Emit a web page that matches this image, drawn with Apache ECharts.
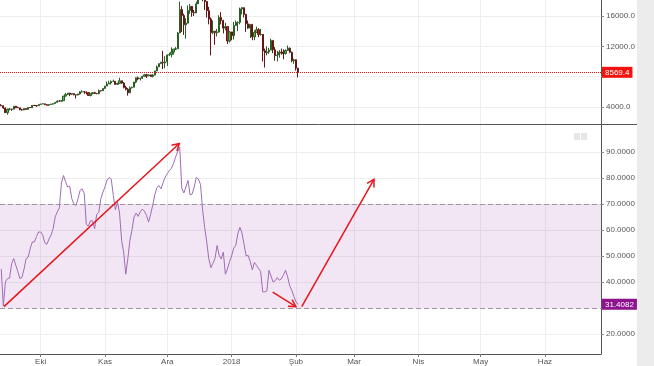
<!DOCTYPE html>
<html><head><meta charset="utf-8">
<script src="https://cdn.jsdelivr.net/npm/echarts@6/dist/echarts.min.js"></script>
<style>html,body{margin:0;padding:0;background:#fff}#c{width:654px;height:366px}</style>
</head><body><div id="c"></div>
<script>
// ---- data (daily, starting 2017-09-12) ----
const startDate = '2017-09-12';
const open = [
 4210,4170,3870,3240,3700,3710,3690,4100,3900,3880,3620,3600,3790,3670,3930,3890,4210,4190,4160,
 4340,4400,4410,4310,4220,4320,4370,4440,4610,4780,4760,4820,5430,5640,5830,5680,5760,5600,5570,5710,6000,6010,5980,5900,5510,5740,5890,5770,5750,6150,6130,
 6450,6750,7030,7160,7380,7390,6980,7110,7450,7150,6580,6330,5860,6520,6600,7280,7850,7700,7780,8040,8240,8100,8230,8010,8200,8750,9280,9720,9890,9820,
 9950,10860,10900,11240,11620,11670,13750,16850,16050,14840,15060,16730,17280,16470,16400,17600,19350,19100,18900,17900,16700,15600,13800,14000,13800,13900,15800,15400,14400,14600,12700,
 13900,13400,14750,15150,15150,16930,17100,16200,14970,14400,14900,13240,13830,14190,13570,13580,11400,11150,11250,11500,12780,11530,10760,10850,11230,11110,11060,11450,11750,11210,10090,
 10220,9120];
const high = [
 4370,4180,3920,3790,3860,3760,4120,4120,4040,3900,3760,3810,3790,3970,3980,4230,4250,4220,4360,
 4400,4470,4440,4350,4350,4420,4460,4630,4850,4920,4880,5450,5850,5840,5860,5790,5780,5600,5730,6070,6200,6060,6060,5910,5760,5970,6000,5860,6300,6200,6470,
 6770,7350,7460,7490,7600,7410,7200,7860,7440,7280,6800,6480,6720,6680,7310,7880,8000,7850,8100,8300,8370,8260,8250,8340,8780,9480,9720,9960,11400,10700,
 10900,11150,11850,11630,11900,13900,17900,17300,16300,15700,17400,17580,17300,16800,17900,19400,19800,19150,18950,17950,17200,15800,15400,14000,14300,16100,16500,15500,15100,14600,14000,
 13900,15200,15400,15300,17100,17200,17100,16300,15400,14900,14900,14100,14600,14400,14300,13600,11700,12000,11800,13000,12800,11900,11400,11500,11700,11600,11600,12100,11850,11300,10350,
 10260,9150];
const low = [
 4090,3760,3200,2980,3540,3480,3690,3840,3860,3570,3520,3580,3640,3660,3860,3890,4120,4000,4150,
 4290,4380,4230,4180,4140,4310,4320,4430,4560,4730,4740,4820,5370,5560,5440,5560,5540,5110,5540,5620,5900,5730,5650,5450,5390,5690,5700,5680,5670,6030,6100,
 6370,6750,7030,6950,7300,6940,6970,7090,7060,6440,6190,5500,5820,6440,6600,7130,7510,7490,7690,7960,7820,8090,8000,7900,8170,8750,9280,9650,9000,9100,
 9400,10700,10550,10910,11500,11670,13750,13900,13500,13000,15000,16300,15900,16000,16400,17600,18800,17950,16800,15800,14900,10800,13600,12200,13300,13800,14900,13700,14100,12300,12500,
 12800,12900,14700,14000,14900,16200,15800,13900,14300,13100,12800,12800,13800,13200,13400,10000,9200,10800,11000,11500,11100,10100,10000,10500,10900,10300,10900,11400,11100,9900,9700,
 8800,7900];
const close = [
 4170,3870,3240,3700,3710,3690,4100,3900,3880,3620,3600,3790,3670,3930,3890,4210,4190,4160,4340,
 4400,4410,4310,4220,4320,4370,4440,4610,4780,4760,4820,5430,5640,5830,5680,5760,5600,5570,5710,6000,6010,5980,5900,5510,5740,5890,5770,5750,6150,6130,6450,
 6750,7030,7160,7380,7390,6980,7110,7450,7150,6580,6330,5860,6520,6600,7280,7850,7700,7780,8040,8240,8100,8230,8010,8200,8750,9280,9720,9890,9820,9950,
 10860,10900,11240,11620,11670,13750,16850,16050,14840,15060,16730,17280,16470,16400,17600,19350,19100,18900,17900,16700,15600,13800,14000,13800,13900,15800,15400,14400,14600,12700,13900,
 13400,14750,15150,15150,16930,17100,16200,14970,14400,14900,13240,13830,14190,13570,13580,11400,11150,11250,11500,12780,11530,10760,10850,11230,11110,11060,11450,11750,11210,10090,10220,
 9120,8569.4];
const rsi = [
 45,30.8,40,41.3,41.5,47,49,46.5,44,41.3,41.8,45,49,49.6,53,55.4,55.4,57.5,59.2,
 59.2,58,55,54.5,56.5,58,60.5,65,66.9,68.5,78,80.9,78.5,76.5,76.8,72,70,69.4,72,75.2,75.8,74,62,61.5,63.5,63.5,60.5,66,66.8,72,74.5,
 76.5,79.2,80.1,79.5,73.3,67.8,70.7,66.5,56,51.5,43,49,56,60,65,66.5,65.2,67,68,67.2,65.6,63,66,69.5,73.5,76.3,77,75.8,78.2,80.3,
 81.6,82.8,83.7,85.5,88,90,91.8,76,74.2,76.5,79,73.4,73.8,76.5,80.2,79.5,77.5,68,61,55.5,49,45.5,47.2,49,54,50.3,48.8,51.5,43,45,47.8,
 50,53,54,58.5,61,58.8,54.5,50,50.2,47.8,44.7,47.5,46.4,45.2,44,36.2,36.2,36.6,44.5,42.3,40,40.5,41.7,40.7,41.2,42.8,44.5,42,38.5,36.8,
 34.5,32.5,31.4082];

const priceTicks = [4000, 8000, 12000, 16000];
const priceLabels = [4000, 12000, 16000];
const rsiTicks = [20, 30, 40, 50, 60, 70, 80, 90];
const rsiLabels = [20, 40, 50, 60, 70, 80, 90];
const rsiBand = [30, 70];
const monthDates = ['2017-10-01','2017-11-01','2017-12-01','2018-01-01','2018-02-01','2018-03-01','2018-04-01','2018-05-01','2018-06-01'];
const monthLabels = ['Eki','Kas','Ara','2018','Şub','Mar','Nis','May','Haz'];
// hand-drawn arrows (day index, RSI value)
const arrowFrom = [[1.3, 30.55], [130.8, 36.1], [144.8, 30.55]];
const arrowTo   = [[85.8, 93.2], [142.0, 30.55], [179.6, 79.4]];

// ---- build ----
const DAY = 86400000;
const t0 = Date.parse(startDate + 'T00:00:00Z');
const dayOf = s => Math.round((Date.parse(s + 'T00:00:00Z') - t0) / DAY);
const days = close.map((_, i) => i);
const monthDays = monthDates.map(dayOf);

const font = 'Liberation Sans, Arial, sans-serif';
const gridLine = {show: true, lineStyle: {color: '#eeeeee', width: 1}};
const X_MIN = -0.6, X_MAX = 289.0;

const candleData = days.map((d, i) => [d, open[i], close[i], low[i], high[i]]);
const rsiData = days.map((d, i) => [d, rsi[i]]);
const arrowData = arrowFrom.map((a, i) => [a[0], a[1], arrowTo[i][0], arrowTo[i][1]]);
const lastPrice = close[close.length - 1];
const lastRsi = rsi[rsi.length - 1];

const chart = echarts.init(document.getElementById('c'), null, {renderer: 'canvas'});
chart.setOption({
  animation: false,
  backgroundColor: '#ffffff',
  grid: [
    {left: 0, right: 53, top: 0, height: 124},
    {left: 0, right: 53, top: 125, height: 230}
  ],
  xAxis: [
    {type: 'value', gridIndex: 0, min: X_MIN, max: X_MAX,
     axisLine: {show: false}, axisTick: {show: false, customValues: monthDays},
     axisLabel: {show: false}, splitLine: gridLine},
    {type: 'value', gridIndex: 1, min: X_MIN, max: X_MAX,
     axisLine: {show: true, onZero: false, lineStyle: {color: '#555', width: 1}},
     axisTick: {show: true, length: 3, customValues: monthDays, lineStyle: {color: '#777'}},
     axisLabel: {customValues: monthDays, margin: 4, color: '#555', fontSize: 8, fontFamily: font,
       formatter: v => monthLabels[monthDays.indexOf(Math.round(v))] || ''},
     splitLine: gridLine}
  ],
  yAxis: [
    {type: 'value', gridIndex: 0, position: 'right', min: 1750, max: 18110,
     axisLine: {show: true, onZero: false, lineStyle: {color: '#555', width: 1}},
     axisTick: {show: true, length: 3, customValues: priceTicks, lineStyle: {color: '#888'}},
     axisLabel: {customValues: priceLabels, margin: 5, color: '#555', fontSize: 8, fontFamily: font,
       formatter: v => Number(v).toFixed(1)},
     splitLine: gridLine},
    {type: 'value', gridIndex: 1, position: 'right', min: 12.35, max: 100.3,
     axisLine: {show: true, onZero: false, lineStyle: {color: '#555', width: 1}},
     axisTick: {show: true, length: 3, customValues: rsiTicks, lineStyle: {color: '#888'}},
     axisLabel: {customValues: rsiLabels, margin: 5, color: '#555', fontSize: 8, fontFamily: font,
       formatter: v => Number(v).toFixed(4)},
     splitLine: gridLine}
  ],
  series: [
    {type: 'candlestick', xAxisIndex: 0, yAxisIndex: 0, data: candleData,
     encode: {x: 0, y: [1, 2, 3, 4]}, barWidth: 1.7, clip: true,
     itemStyle: {color: '#55b855', color0: '#b3262a', borderColor: '#2a5e25', borderColor0: '#641616', borderWidth: 1},
     markLine: {silent: true, symbol: ['none', 'none'], animation: false,
       lineStyle: {color: '#d9141b', type: 'dotted', width: 1},
       label: {show: true, position: 'end', distance: 1, formatter: lastPrice.toFixed(1),
         backgroundColor: '#f2130f', color: '#fff', fontSize: 8, fontFamily: font, padding: [2, 3, 1, 3]},
       data: [{yAxis: lastPrice}]}
    },
    {type: 'line', xAxisIndex: 1, yAxisIndex: 1, data: rsiData, showSymbol: false,
     lineStyle: {color: '#a06cb6', width: 1}, z: 3,
     markArea: {silent: true, itemStyle: {color: 'rgba(155,50,165,0.12)'},
       data: [[{yAxis: rsiBand[0]}, {yAxis: rsiBand[1]}]]},
     markLine: {silent: true, symbol: ['none', 'none'], animation: false,
       lineStyle: {color: '#a394a5', type: [5, 3], width: 1},
       label: {show: false},
       data: [
         {yAxis: rsiBand[1]},
         {yAxis: rsiBand[0]}
       ]}
    },
    {type: 'line', xAxisIndex: 1, yAxisIndex: 1, data: [], showSymbol: false, z: 4,
     markLine: {silent: true, symbol: ['none', 'none'], animation: false,
       lineStyle: {color: 'rgba(0,0,0,0)', width: 1},
       label: {show: true, position: 'end', distance: 1, formatter: lastRsi.toFixed(4),
         backgroundColor: '#8e138e', color: '#fff', fontSize: 8, fontFamily: font, padding: [2, 3, 1, 3]},
       data: [{yAxis: lastRsi}]}
    },
    {type: 'custom', xAxisIndex: 1, yAxisIndex: 1, data: arrowData, z: 5,
     encode: {x: [0, 2], y: [1, 3]},
     renderItem: (params, api) => {
       const p1 = api.coord([api.value(0), api.value(1)]);
       const p2 = api.coord([api.value(2), api.value(3)]);
       const ang = Math.atan2(p2[1] - p1[1], p2[0] - p1[0]);
       const L = 8, a = Math.PI / 6;
       const h1 = [p2[0] - L * Math.cos(ang - a), p2[1] - L * Math.sin(ang - a)];
       const h2 = [p2[0] - L * Math.cos(ang + a), p2[1] - L * Math.sin(ang + a)];
       const st = {stroke: '#e8151b', lineWidth: 1.5, fill: null};
       return {type: 'group', children: [
         {type: 'line', shape: {x1: p1[0], y1: p1[1], x2: p2[0], y2: p2[1]}, style: st},
         {type: 'polyline', shape: {points: [h1, p2, h2]}, style: st}
       ]};
     }}
  ],
  graphic: [
    {type: 'rect', shape: {x: 637, y: 0, width: 17, height: 366}, style: {fill: '#ececec'}, silent: true},
    {type: 'line', shape: {x1: 0, y1: 124.5, x2: 637, y2: 124.5}, style: {stroke: '#555', lineWidth: 1}, silent: true},
    {type: 'rect', shape: {x: 574, y: 133, width: 6, height: 7}, style: {fill: '#e6e6e6'}, silent: true},
    {type: 'rect', shape: {x: 581, y: 133, width: 6, height: 7}, style: {fill: '#e6e6e6'}, silent: true}
  ]
});
</script>
</body></html>
